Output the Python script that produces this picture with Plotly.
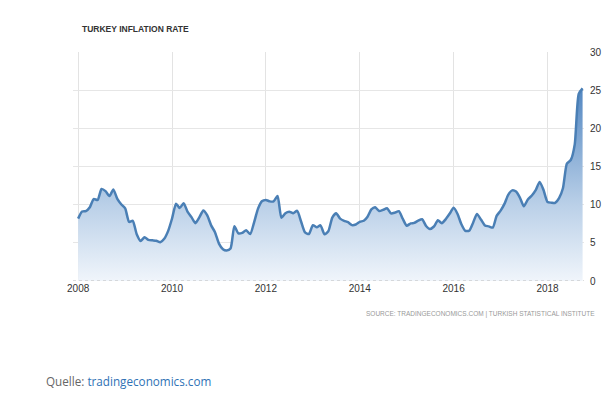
import plotly.graph_objects as go

# Turkey annual CPI inflation (%), monthly, Jan 2008 - Oct 2018
months = [f"{y}-{m:02d}-01" for y in range(2008, 2019) for m in range(1, 13)][:130]
inflation = [
    8.17, 9.10, 9.15, 9.66, 10.74, 10.61, 12.06, 11.77, 11.13, 11.99, 10.76, 10.06,   # 2008
    9.50, 7.73, 7.89, 6.13, 5.24, 5.73, 5.39, 5.33, 5.27, 5.08, 5.53, 6.53,           # 2009
    8.19, 10.13, 9.56, 10.19, 9.10, 8.37, 7.58, 8.33, 9.24, 8.62, 7.29, 6.40,         # 2010
    4.90, 4.16, 3.99, 4.26, 7.17, 6.24, 6.31, 6.65, 6.15, 7.66, 9.48, 10.45,          # 2011
    10.61, 10.43, 10.43, 11.14, 8.28, 8.87, 9.07, 8.88, 9.19, 7.80, 6.37, 6.16,       # 2012
    7.31, 7.03, 7.29, 6.13, 6.51, 8.30, 8.88, 8.17, 7.88, 7.71, 7.32, 7.40,           # 2013
    7.75, 7.89, 8.39, 9.38, 9.66, 9.16, 9.32, 9.54, 8.86, 8.96, 9.15, 8.17,           # 2014
    7.24, 7.55, 7.61, 7.91, 8.09, 7.20, 6.81, 7.14, 7.95, 7.58, 8.10, 8.81,           # 2015
    9.58, 8.78, 7.46, 6.57, 6.58, 7.64, 8.79, 8.05, 7.28, 7.16, 7.00, 8.53,           # 2016
    9.22, 10.13, 11.29, 11.87, 11.72, 10.90, 9.79, 10.68, 11.20, 11.90, 12.98, 11.92, # 2017
    10.35, 10.26, 10.23, 10.85, 12.15, 15.39, 15.85, 17.90, 24.52, 25.24,             # 2018
]
x_tick_vals = ["2008-01-01", "2010-01-01", "2012-01-01", "2014-01-01", "2016-01-01", "2018-01-01"]
x_tick_text = ["2008", "2010", "2012", "2014", "2016", "2018"]
y_tick_vals = [0, 5, 10, 15, 20, 25, 30]
y_tick_text = ["0", "5", "10", "15", "20", "25", "30"]

fig = go.Figure()
fig.add_trace(go.Scatter(
    x=months, y=inflation, mode="lines",
    line=dict(color="#4a7fb5", width=2.5, shape="spline", smoothing=0.6),
    fill="tozeroy",
    fillgradient=dict(
        type="vertical", start=0, stop=25,
        colorscale=[[0, "rgb(240,245,251)"], [0.4, "rgb(186,208,232)"], [1, "rgb(84,136,194)"]],
    ),
    hoverinfo="x+y",
))

fig.add_shape(type="line", xref="paper", yref="y", x0=0, x1=1, y0=0, y1=0,
              line=dict(color="#bbbbbb", width=1, dash="dot"))

fig.update_layout(
    width=605, height=397,
    margin=dict(l=73, r=21, t=52, b=116, autoexpand=False),
    paper_bgcolor="white", plot_bgcolor="white",
    showlegend=False,
    font=dict(family="Liberation Sans, Arial, sans-serif", color="#333333"),
    xaxis=dict(
        type="date", range=["2007-11-22", "2018-10-12"],
        tickvals=x_tick_vals, ticktext=x_tick_text,
        showgrid=True, gridcolor="#e3e3e3", gridwidth=1,
        zeroline=False, showline=False, ticks="", automargin=False,
        tickfont=dict(size=10, color="#333333"),
    ),
    yaxis=dict(
        range=[0, 30], side="right",
        tickvals=y_tick_vals, ticktext=y_tick_text,
        showgrid=True, gridcolor="#e6e6e6", gridwidth=1,
        zeroline=False, showline=False, ticks="", automargin=False,
        tickfont=dict(size=10, color="#333333"),
        ticklabelstandoff=5,
    ),
    annotations=[
        dict(text="<b>TURKEY INFLATION RATE</b>", xref="paper", yref="paper",
             x=7 / 511, y=1, xanchor="left", yanchor="bottom",
             showarrow=False, font=dict(size=8.5, color="#333333"), yshift=16,
             ),
        dict(text="SOURCE: TRADINGECONOMICS.COM | TURKISH STATISTICAL INSTITUTE",
             xref="paper", yref="paper", x=1, y=0, xanchor="right", yanchor="top",
             showarrow=False, font=dict(size=6.5, color="#999999"), xshift=13, yshift=-27),
        dict(text="Quelle: <span style='color:#2f72b5'>tradingeconomics.com</span>",
             xref="paper", yref="paper", x=0, y=0, xanchor="left", yanchor="top",
             showarrow=False, font=dict(family="Open Sans, sans-serif", size=11.7, color="#666666"),
             xshift=-29, yshift=-90),
    ],
)

fig.write_html("out.html", config={"displayModeBar": False},
               post_script="document.body.style.margin='0';document.body.style.padding='0';")
